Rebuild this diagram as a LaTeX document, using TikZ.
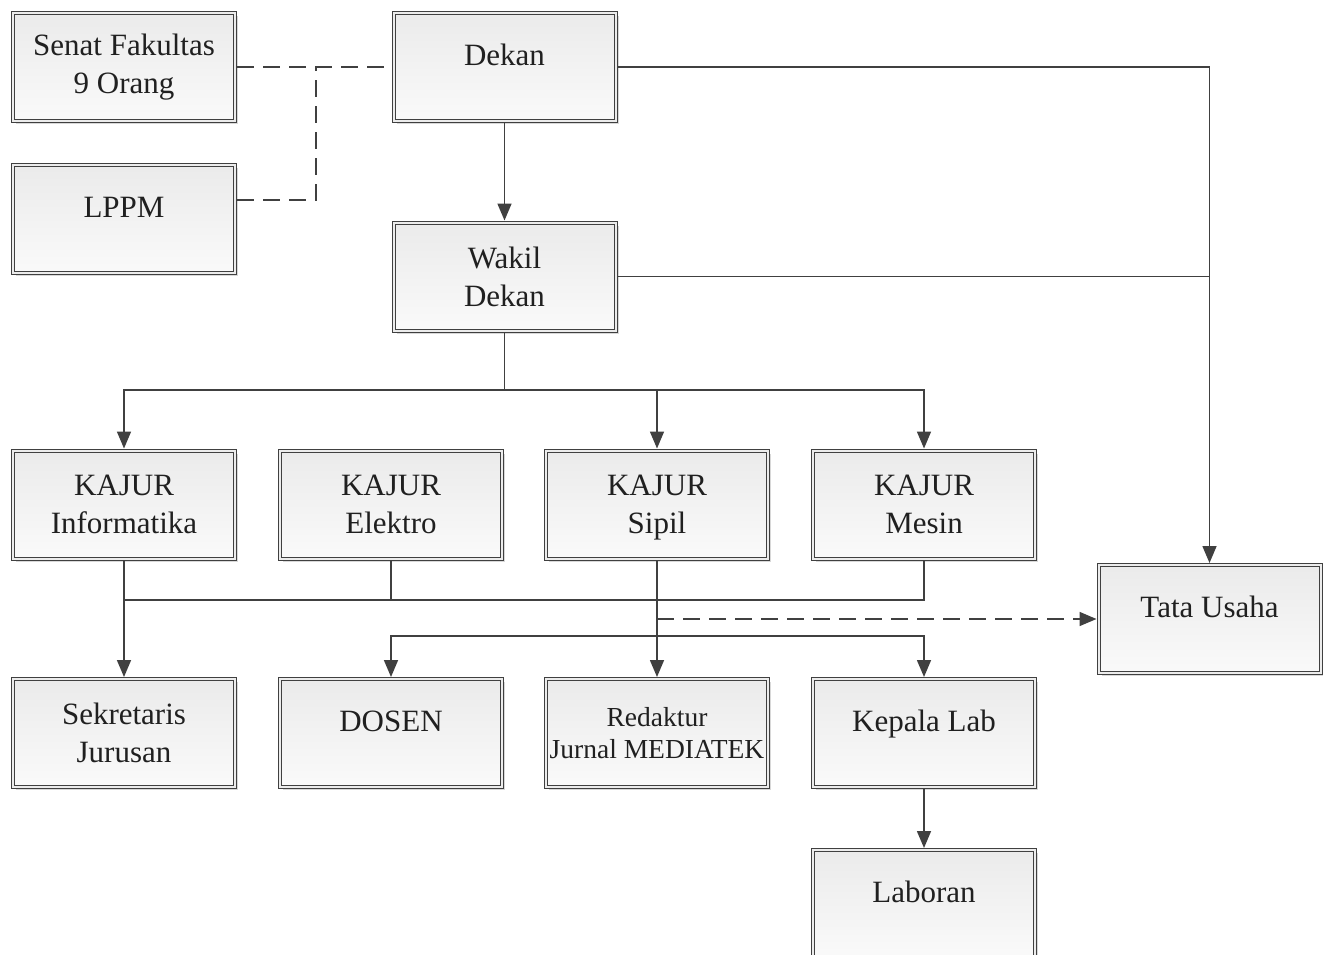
\documentclass[tikz,border=0pt]{standalone}
\usepackage{fontspec}
\setmainfont{Liberation Serif}
\usetikzlibrary{arrows.meta,shadows}
\definecolor{ln}{HTML}{404040}
\definecolor{tx}{HTML}{202020}
\begin{document}
\begin{tikzpicture}[x=1pt,y=-1pt,
  box/.style={rectangle, draw=ln, line width=1pt, double=white!85!gray, double distance=2pt,
    top color=gray!16, bottom color=gray!4, minimum width=222pt, minimum height=108pt,
    outer sep=2pt, inner sep=2pt, align=center, text=tx,
    font=\fontsize{31}{38}\selectfont,
    drop shadow={shadow xshift=3pt, shadow yshift=-3pt, opacity=0.3, fill=gray}},
  one/.style={text height=22pt, text depth=25pt},
  conn/.style={draw=ln, line width=1.6pt},
  arr/.style={conn, -{Triangle[length=17pt,width=14pt]}},
  dline/.style={conn, dash pattern=on 17pt off 9pt},
  darr/.style={dline, -{Triangle[length=17pt,width=14pt]}}]
\fill[white] (0,0) rectangle (1323,955);
\useasboundingbox (0,0) rectangle (1323,955);
% top
\node[box] (senat) at (124,67) {Senat Fakultas\\9 Orang};
\node[box,one] (lppm) at (124,219) {LPPM};
\node[box,one] (dekan) at (504.5,67) {Dekan};
\node[box] (wakil) at (504.5,276.5) {Wakil\\Dekan};
% kajur
\node[box] (kinf) at (124,504.5) {KAJUR\\Informatika};
\node[box] (kel) at (391,504.5) {KAJUR\\Elektro};
\node[box] (ksip) at (657,504.5) {KAJUR\\\raisebox{0pt}[\height][0pt]{Sipil}};
\node[box] (kmes) at (924,504.5) {KAJUR\\Mesin};
\node[box,one] (tu) at (1209.5,619) {Tata Usaha};
% bottom
\node[box] (sek) at (124,733) {Sekretaris\\Jurusan};
\node[box,one] (dos) at (391,733) {DOSEN};
\node[box,font=\fontsize{27.5}{32}\selectfont] (red) at (657,733) {Redaktur\\Jurnal MEDIATEK};
\node[box,one] (kep) at (924,733) {Kepala Lab};
\node[box,one] (lab) at (924,904) {Laboran};
% coordinates
\coordinate (j1) at (316,67);
\coordinate (j2) at (316,200);
\coordinate (b1) at (504.5,390);
\coordinate (h600) at (0,600);
\coordinate (h636) at (0,636);
% dashed links
\draw[dline] (senat.east) -- (dekan.west);
\draw[dline] (lppm.east |- j2) -- (j2) -- (j1);
% dekan / wakil / tata usaha
\draw[arr] (dekan.south) -- (wakil.north);
\draw[arr] (dekan.east) -| (tu.north);
\draw[conn] (wakil.east) -- (wakil.east -| tu.north);
% wakil to kajur
\draw[conn] (wakil.south) -- (b1);
\draw[arr] (b1) -| (kinf.north);
\draw[arr] (b1) -| (kmes.north);
\draw[arr] (ksip.north |- b1) -- (ksip.north);
% kajur bottoms
\draw[conn] (kinf.south |- h600) -- (kmes.south |- h600) -- (kmes.south);
\draw[conn] (kel.south) -- (kel.south |- h600);
\draw[arr] (kinf.south) -- (sek.north);
\draw[arr] (ksip.south) -- (red.north);
\draw[darr] (ksip.south |- tu.west) -- (tu.west);
\draw[arr] (ksip.south |- h636) -| (dos.north);
\draw[arr] (ksip.south |- h636) -| (kep.north);
\draw[arr] (kep.south) -- (lab.north);
\end{tikzpicture}
\end{document}
